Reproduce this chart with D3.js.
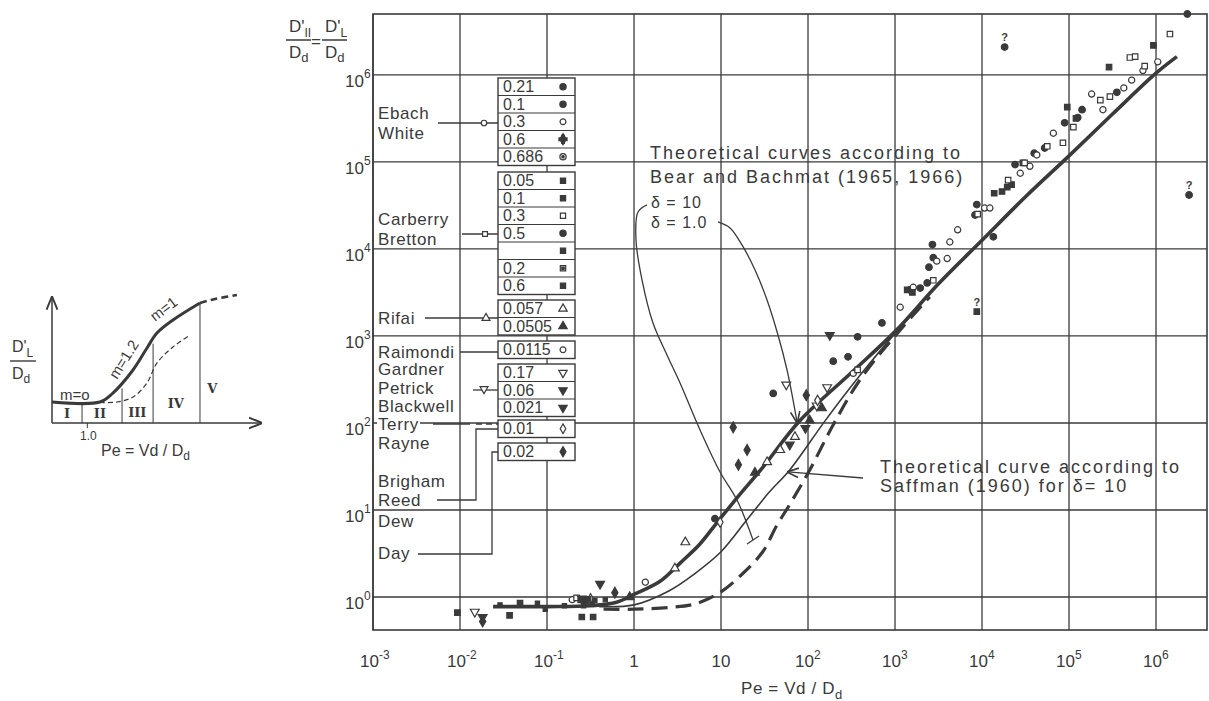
<!DOCTYPE html>
<html><head><meta charset="utf-8">
<script src="https://cdn.jsdelivr.net/npm/d3@7"></script>
<style>
body{margin:0;background:#fff;}
svg{font-family:"Liberation Sans",Arial,sans-serif;}
</style></head><body>
<div id="chart"></div>
<script>
// all values are log10 exponents [log Pe, log D'/Dd]
const xTickExp = [-3,-2,-1,0,1,2,3,4,5,6];
const yTickExp = [0,1,2,3,4,5,6];

const thickCurve = [[-1.62,-0.11],[-1,-0.11],[-0.5,-0.1],[-0.2,-0.06],[0,0.03],[0.3,0.18],[0.53,0.39],[0.75,0.6],[0.95,0.85],[1.2,1.16],[1.48,1.49],[1.9,2.02],[2.5,2.58],[3,3.05],[3.5,3.6],[4,4.1],[4.5,4.6],[5,5.07],[5.5,5.55],[6,6.02],[6.24,6.21]];
const thinCurve = [[-0.4,-0.11],[0,-0.09],[0.4,0.07],[0.7,0.27],[1.0,0.52],[1.3,0.89],[1.55,1.2],[1.79,1.46],[2.2,2.03],[2.6,2.55],[3.0,3.03],[3.3,3.36]];
const saffmanCurve = [[-0.35,-0.14],[0,-0.14],[0.4,-0.12],[0.7,-0.08],[1.0,0.06],[1.25,0.27],[1.48,0.52],[1.64,0.82],[1.8,1.08],[2.02,1.46],[2.29,1.98],[2.6,2.5],[3.06,3.07],[3.4,3.45]];

const filledCircles = [[4.26,6.32],[6.36,6.70],[6.38,4.62],[3.94,4.51],[3.92,4.39],[3.43,4.05],[3.39,3.79],[3.44,3.9],[4.13,4.14],[4.38,4.97],[4.72,5.16],[5.15,5.6],[5.1,5.51],[1.6,2.34],[2.29,2.71],[2.57,2.99],[2.46,2.76],[2.85,3.15],[0.93,0.9],[3.17,3.53],[3.29,3.55],[4.6,5.1],[4.95,5.45],[5.55,5.8],[3.37,3.61]];
const openCircles = [[3.63,4.08],[3.72,4.22],[3.6,3.89],[4.03,4.47],[4.09,4.47],[4.63,5.08],[4.82,5.33],[5.39,5.6],[5.63,5.85],[5.72,5.94],[6.02,6.15],[0.13,0.17],[3.48,3.86],[4.44,4.87],[5.26,5.78],[2.52,2.57],[3.06,3.33],[-0.71,-0.03],[5.85,6.05],[4.55,4.95],[3.21,3.56]];
const filledSquares = [[5.97,6.34],[5.46,6.09],[4.98,5.63],[4.47,4.99],[4.14,4.64],[4.23,4.66],[3.94,3.28],[-2.03,-0.18],[-1.43,-0.21],[-0.6,-0.23],[-0.47,-0.23],[4.29,4.71],[4.34,4.74],[-1.31,-0.07],[-0.55,-0.05],[3.2,3.5],[5.08,5.5],[3.14,3.53]];
const openSquares = [[6.16,6.47],[5.7,6.2],[5.76,6.21],[5.87,6.1],[5.47,5.75],[5.36,5.71],[4.93,5.22],[5.05,5.4],[4.49,4.99],[4.3,4.79],[-0.66,-0.01],[2.57,2.61],[4.75,5.18],[3.95,4.4],[3.44,3.64]];
const openTriUp = [[0.59,0.63],[0.47,0.33],[1.53,1.55],[1.68,1.69],[1.85,1.84]];
const filledTriUp = [[2.02,2.03],[2.16,2.17],[1.39,1.43],[-0.05,0.0]];
const openTriDown = [[1.75,2.44],[2.22,2.41],[-1.83,-0.17],[2.1,2.2]];
const filledTriDown = [[-0.39,0.15],[-1.74,-0.23],[2.25,3.01],[1.79,1.75],[1.97,1.94],[-0.6,-0.02]];
const filledDiamonds = [[1.14,1.95],[1.3,1.69],[1.2,1.52],[1.98,2.32],[-0.22,0.05],[-1.74,-0.28]];
const openDiamonds = [[2.11,2.26],[0.99,0.86],[-0.5,-0.02]];
const plateauDots = [[-1.54,-0.09],[-1.11,-0.07],[-1.02,-0.14],[-0.62,-0.04],[-0.58,-0.1],[-0.52,-0.02],[-0.48,-0.08],[-0.45,-0.04],[-0.33,-0.03],[-0.8,-0.1]];
const queried = [[4.26,6.32],[6.38,4.62],[3.94,3.28]];

const leaderDelta10 = [[0.149,4.506],[0.046,4.425],[0.023,4.103],[0.092,3.644],[0.218,3.149],[0.379,2.782],[0.529,2.46],[0.759,1.92],[0.989,1.437],[1.184,1.115],[1.368,0.655]];
const leaderDelta1 = [[0.966,4.31],[1.103,4.241],[1.241,4.046],[1.391,3.759],[1.529,3.414],[1.655,3.011],[1.759,2.609],[1.828,2.264],[1.874,2.011]];
const leaderSaffman = [[2.632,1.368],[1.77,1.437]];

// legend
const ebachVals = ["0.21","0.1","0.3","0.6","0.686"];
const ebachMarks = ["fc","fc","oc","dplus","odot"];
const carberryVals = ["0.05","0.1","0.3","0.5","","0.2","0.6"];
const carberryMarks = ["fs","fs","os","fc","fs","sdot","fs"];
const rifaiVals = ["0.057","0.0505"];
const rifaiMarks = ["tu","ftu"];
const raimondiVals = ["0.0115"];
const raimondiMarks = ["oc"];
const gardnerVals = ["0.17","0.06","0.021"];
const gardnerMarks = ["td","ftd","ftd"];
const terryVals = ["0.01"];
const terryMarks = ["od"];
const dayVals = ["0.02"];
const dayMarks = ["fd"];

// inset (schematic, arbitrary units 0..10)
const insetThick = [[0,1.64],[2.36,1.64],[3.0,2.34],[3.99,4.14],[4.68,5.86],[5.17,7.03],[5.96,8.05],[7.29,9.38]];
const insetThickDash = [[7.29,9.38],[8.03,9.69],[9.11,10]];
const insetThin = [[2.36,1.6],[3.2,1.64],[3.99,2.03],[4.68,3.13],[5.17,4.69],[5.96,5.94],[6.8,6.88]];
const insetDividers = [[1.48,1.6],[3.45,2.7],[4.98,6.2],[7.29,9.38]];
const insetZones = ["I","II","III","IV","V"];

const W = 1209, H = 701, ink = "#3a3a3a";
const P = e => Math.pow(10, e);
const svg = d3.select("#chart").append("svg").attr("width", W).attr("height", H).style("background", "#fff");

svg.append("defs").append("marker").attr("id","arr").attr("viewBox","0 0 10 10").attr("refX",9).attr("refY",5)
  .attr("markerWidth",9).attr("markerHeight",9).attr("orient","auto-start-reverse")
  .append("path").attr("d","M0,1 L10,5 L0,9").attr("fill","none").attr("stroke",ink).attr("stroke-width",1.4);

const x = d3.scaleLog().domain([1e-3, P(6.586)]).range([373, 1207]);
const y = d3.scaleLog().domain([P(-0.379), P(6.70)]).range([630, 14]);
const px = d => x(P(d[0])), py = d => y(P(d[1]));

// grid
const grid = svg.append("g").attr("stroke", ink).attr("stroke-width", 1.3);
grid.selectAll(".vx").data(xTickExp).enter().append("line")
  .attr("x1", e => x(P(e))).attr("x2", e => x(P(e))).attr("y1", 14).attr("y2", 630);
grid.selectAll(".hy").data(yTickExp).enter().append("line")
  .attr("x1", 373).attr("x2", 1207).attr("y1", e => y(P(e))).attr("y2", e => y(P(e)));
svg.append("rect").attr("x", 373).attr("y", 14).attr("width", 834).attr("height", 616)
  .attr("fill", "none").attr("stroke", ink).attr("stroke-width", 1.6);

// tick labels
const xl = svg.append("g").attr("fill", ink).style("font-size", "17px");
xTickExp.forEach(e => {
  const t = xl.append("text").attr("y", 667);
  if (e === 0) { t.attr("x", x(1)).attr("text-anchor","middle").text("1"); }
  else if (e === 1) { t.attr("x", x(10)).attr("text-anchor","middle").text("10"); }
  else {
    t.attr("x", x(P(e)) - 13).text("10");
    t.append("tspan").attr("dy", -8).style("font-size","12px").text(e);
  }
});
const yl = svg.append("g").attr("fill", ink).style("font-size", "17px");
yTickExp.forEach(e => {
  const t = yl.append("text").attr("x", 345).attr("y", y(P(e)) + 12).text("10");
  t.append("tspan").attr("dy", -9).style("font-size","12px").text(e);
});

// axis titles
const xt = svg.append("text").attr("x", 741).attr("y", 694).attr("fill", ink).style("font-size","17px").style("letter-spacing","0.6px").text("Pe = Vd / D");
xt.append("tspan").attr("dy", 5).style("font-size","13px").text("d");

function frac(g, cx, top, sub) {
  const n = g.append("text").attr("x", cx - 10).attr("y", top + 16).style("font-size","17px").text("D'");
  n.append("tspan").attr("dy", 5).style("font-size","12px").text(sub);
  g.append("line").attr("x1", cx - 13).attr("x2", cx + 12).attr("y1", top + 24).attr("y2", top + 24).attr("stroke", ink).attr("stroke-width", 1.5);
  const d = g.append("text").attr("x", cx - 10).attr("y", top + 42).style("font-size","17px").text("D");
  d.append("tspan").attr("dy", 4).style("font-size","13px").text("d");
}
const yt = svg.append("g").attr("fill", ink);
frac(yt, 299, 16, "II");
yt.append("text").attr("x", 311).attr("y", 47).style("font-size","17px").text("=");
frac(yt, 335, 16, "L");

// theoretical curves
const line = d3.line().x(px).y(py).curve(d3.curveCatmullRom.alpha(0.5));
svg.append("path").datum(thinCurve).attr("d", line).attr("fill","none").attr("stroke", ink).attr("stroke-width", 1.6);
svg.append("path").datum(saffmanCurve).attr("d", line).attr("fill","none").attr("stroke", ink).attr("stroke-width", 3.2).attr("stroke-dasharray","16,8");
svg.append("path").datum(thickCurve).attr("d", line).attr("fill","none").attr("stroke", ink).attr("stroke-width", 3.6);

// leaders
svg.append("path").datum(leaderDelta10).attr("d", line).attr("fill","none").attr("stroke", ink).attr("stroke-width", 1.3);
const end10 = leaderDelta10[leaderDelta10.length - 1];
svg.append("line").attr("x1", px(end10) - 6).attr("x2", px(end10) + 6).attr("y1", py(end10) + 4).attr("y2", py(end10) - 4).attr("stroke", ink).attr("stroke-width", 1.3);
svg.append("path").datum(leaderDelta1).attr("d", line).attr("fill","none").attr("stroke", ink).attr("stroke-width", 1.3).attr("marker-end","url(#arr)");
svg.append("path").datum(leaderSaffman).attr("d", line).attr("fill","none").attr("stroke", ink).attr("stroke-width", 1.3).attr("marker-end","url(#arr)");

// markers
function mark(g, type, cx, cy, s) {
  s = s || 1;
  const sym = (t, size, fill, rot) => g.append("path").attr("d", d3.symbol().type(t).size(size * s)())
    .attr("transform", `translate(${cx},${cy})` + (rot ? ` rotate(${rot})` : ""))
    .attr("fill", fill ? ink : "#fff").attr("stroke", ink).attr("stroke-width", 1.2);
  if (type === "fc") sym(d3.symbolCircle, 34, true);
  else if (type === "oc") sym(d3.symbolCircle, 30, false);
  else if (type === "fs") sym(d3.symbolSquare, 30, true);
  else if (type === "os") sym(d3.symbolSquare, 30, false);
  else if (type === "tu") sym(d3.symbolTriangle, 34, false);
  else if (type === "ftu") sym(d3.symbolTriangle, 34, true);
  else if (type === "td") sym(d3.symbolTriangle, 34, false, 180);
  else if (type === "ftd") sym(d3.symbolTriangle, 34, true, 180);
  else if (type === "fd") sym(d3.symbolDiamond, 34, true);
  else if (type === "od") sym(d3.symbolDiamond, 30, false);
  else if (type === "dplus") { sym(d3.symbolDiamond, 40, true); sym(d3.symbolCross, 40, true); }
  else if (type === "odot") { sym(d3.symbolCircle, 34, false); sym(d3.symbolCircle, 5, true); }
  else if (type === "sdot") { sym(d3.symbolSquare, 32, false); sym(d3.symbolSquare, 6, true); }
  else if (type === "dot") sym(d3.symbolSquare, 18, true);
}
const pts = svg.append("g");
[[filledCircles,"fc"],[openCircles,"oc"],[filledSquares,"fs"],[openSquares,"os"],[openTriUp,"tu"],[filledTriUp,"ftu"],
 [openTriDown,"td"],[filledTriDown,"ftd"],[filledDiamonds,"fd"],[openDiamonds,"od"],[plateauDots,"dot"]]
 .forEach(([arr, t]) => arr.forEach(d => mark(pts, t, px(d), py(d))));
pts.selectAll(".q").data(queried).enter().append("text").attr("x", px).attr("y", d => py(d) - 6)
  .attr("text-anchor","middle").attr("fill", ink).style("font-size","11px").style("font-weight","bold").text("?");

// annotations
const ann = svg.append("g").attr("fill", ink).style("font-size","18px").style("letter-spacing","2px");
ann.append("text").attr("x", 650).attr("y", 159).text("Theoretical curves according to");
ann.append("text").attr("x", 650).attr("y", 183).text("Bear and Bachmat (1965, 1966)");
ann.append("text").attr("x", 651).attr("y", 208).style("font-size","16px").style("letter-spacing","1px").text("δ = 10");
ann.append("text").attr("x", 651).attr("y", 228).style("font-size","16px").style("letter-spacing","1px").text("δ = 1.0");
ann.append("text").attr("x", 880).attr("y", 473).text("Theoretical curve according to");
ann.append("text").attr("x", 880).attr("y", 492).text("Saffman (1960) for  δ= 10");

// legend
const leg = svg.append("g");
const boxX = 498, boxW = 77, rowH = 17.5;
function legGroup(top, vals, marks) {
  const g = leg.append("g");
  g.append("rect").attr("x", boxX).attr("y", top).attr("width", boxW).attr("height", vals.length * rowH)
    .attr("fill","#fff").attr("stroke", ink).attr("stroke-width", 1.4);
  vals.forEach((v, i) => {
    if (i > 0) g.append("line").attr("x1", boxX).attr("x2", boxX + boxW).attr("y1", top + i * rowH).attr("y2", top + i * rowH).attr("stroke", ink).attr("stroke-width", 1.2);
    g.append("text").attr("x", boxX + 5).attr("y", top + i * rowH + 14).attr("fill", ink).style("font-size","16px").text(v);
    mark(g, marks[i], boxX + 65, top + i * rowH + rowH / 2, 0.9);
  });
}
legGroup(78, ebachVals, ebachMarks);
legGroup(172, carberryVals, carberryMarks);
legGroup(300, rifaiVals, rifaiMarks);
legGroup(341, raimondiVals, raimondiMarks);
legGroup(364, gardnerVals, gardnerMarks);
legGroup(420, terryVals, terryMarks);
legGroup(443, dayVals, dayMarks);

const names = [["Ebach",113],["White",133],["Carberry",219],["Bretton",239],["Rifai",318],["Raimondi",352],["Gardner",369],
  ["Petrick",388],["Blackwell",406],["Terry",424],["Rayne",443],["Brigham",481],["Reed",500],["Dew",521],["Day",553]];
const lab = svg.append("g").attr("fill", ink).style("font-size","17px").style("letter-spacing","0.6px");
names.forEach(([n, cy]) => {
  const bb = n.length * 8.6;
  lab.append("rect").attr("x", 377).attr("y", cy - 9).attr("width", bb).attr("height", 17).attr("fill","#fff");
  lab.append("text").attr("x", 378).attr("y", cy + 6).text(n);
});
const conn = svg.append("g").attr("stroke", ink).attr("stroke-width", 1.3).attr("fill","none");
conn.append("line").attr("x1", 438).attr("x2", boxX).attr("y1", 123).attr("y2", 123);
mark(svg, "oc", 484, 123, 0.8);
conn.append("line").attr("x1", 462).attr("x2", boxX).attr("y1", 234).attr("y2", 234);
mark(svg, "os", 485, 234, 0.8);
conn.append("line").attr("x1", 425).attr("x2", boxX).attr("y1", 318).attr("y2", 318);
mark(svg, "tu", 486, 318, 0.8);
conn.append("line").attr("x1", 460).attr("x2", boxX).attr("y1", 352).attr("y2", 352);
conn.append("line").attr("x1", 473).attr("x2", boxX).attr("y1", 390).attr("y2", 390);
mark(svg, "td", 484, 389, 0.8);
conn.append("line").attr("x1", 433).attr("x2", 470).attr("y1", 424).attr("y2", 424);
conn.append("line").attr("x1", 476).attr("x2", boxX).attr("y1", 424).attr("y2", 424).attr("stroke-dasharray","6,4");
conn.append("polyline").attr("points", `437,500 476,500 476,429 ${boxX},429`);
conn.append("polyline").attr("points", `418,554 492,554 492,452 ${boxX},452`);

// inset
const ix = d3.scaleLinear().domain([0, 10]).range([52, 255]);
const iy = d3.scaleLinear().domain([0, 10]).range([423, 295]);
const ins = svg.append("g");
const il = d3.line().x(d => ix(d[0])).y(d => iy(d[1])).curve(d3.curveCatmullRom.alpha(0.5));
ins.append("line").attr("x1", ix(0)).attr("x2", ix(0)).attr("y1", iy(0)).attr("y2", iy(9.8)).attr("stroke", ink).attr("stroke-width", 1.5).attr("marker-end","url(#arr)");
ins.append("line").attr("x1", ix(0)).attr("x2", ix(10.3)).attr("y1", iy(0)).attr("y2", iy(0)).attr("stroke", ink).attr("stroke-width", 1.5).attr("marker-end","url(#arr)");
ins.selectAll(".dv").data(insetDividers).enter().append("line")
  .attr("x1", d => ix(d[0])).attr("x2", d => ix(d[0])).attr("y1", iy(0)).attr("y2", d => iy(d[1]))
  .attr("stroke", ink).attr("stroke-width", 1);
ins.append("path").datum(insetThin).attr("d", il).attr("fill","none").attr("stroke", ink).attr("stroke-width", 1.2).attr("stroke-dasharray","5,3");
ins.append("path").datum(insetThick).attr("d", il).attr("fill","none").attr("stroke", ink).attr("stroke-width", 3);
ins.append("path").datum(insetThickDash).attr("d", il).attr("fill","none").attr("stroke", ink).attr("stroke-width", 2.6).attr("stroke-dasharray","7,4");
ins.append("line").attr("x1", ix(1.74)).attr("x2", ix(1.74)).attr("y1", iy(0)).attr("y2", iy(-0.4)).attr("stroke", ink);
const it = ins.append("g").attr("fill", ink);
const zoneX = [0.74, 2.36, 4.2, 6.1, 7.9], zoneY = [0.75, 0.75, 0.85, 1.6, 2.7];
insetZones.forEach((z, i) => it.append("text").attr("x", ix(zoneX[i])).attr("y", iy(zoneY[i]) + 5).attr("text-anchor","middle")
  .style("font-family","'DejaVu Serif',serif").style("font-weight","bold").style("font-size","13px").text(z));
it.append("text").attr("x", 60).attr("y", 400).style("font-size","15px").text("m=o");
it.append("text").attr("transform","translate(117,380) rotate(-58)").style("font-size","15px").text("m=1.2");
it.append("text").attr("transform","translate(155,322) rotate(-37)").style("font-size","15px").text("m=1");
it.append("text").attr("x", 80).attr("y", 440).style("font-size","12px").text("1.0");
const ip = it.append("text").attr("x", 101).attr("y", 456).style("font-size","16px").text("Pe = Vd / D");
ip.append("tspan").attr("dy", 4).style("font-size","12px").text("d");
const f1 = it.append("text").attr("x", 12).attr("y", 352).style("font-size","16px").text("D'");
f1.append("tspan").attr("dy", 5).style("font-size","12px").text("L");
it.append("line").attr("x1", 10).attr("x2", 36).attr("y1", 361).attr("y2", 361).attr("stroke", ink).attr("stroke-width", 1.4);
const f2 = it.append("text").attr("x", 12).attr("y", 379).style("font-size","16px").text("D");
f2.append("tspan").attr("dy", 4).style("font-size","12px").text("d");
</script>
</body></html>
